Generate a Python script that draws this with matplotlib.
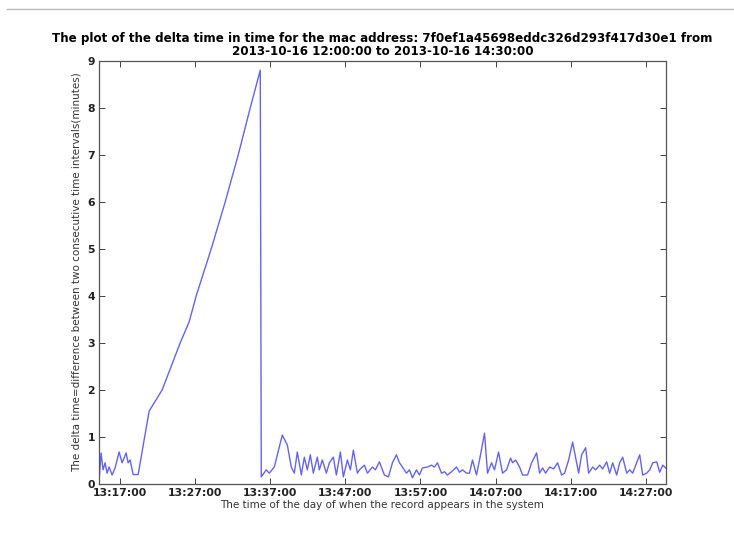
import matplotlib
matplotlib.use("Agg")
import matplotlib.pyplot as plt
import matplotlib.dates as mdates
import pandas as pd
from matplotlib.lines import Line2D

# Record timestamps and the delta time (minutes) between consecutive records
times = [
    "13:14:12", "13:14:28", "13:14:44", "13:15:00", "13:15:16", "13:15:32", "13:15:56", "13:16:20",
    "13:16:52", "13:17:16", "13:17:48", "13:18:04", "13:18:20", "13:18:44", "13:19:24", "13:20:52",
    "13:22:36", "13:25:00", "13:26:12", "13:27:08", "13:29:08", "13:31:00", "13:32:44", "13:34:20",
    "13:35:40", "13:35:48", "13:36:28", "13:36:52", "13:37:32", "13:38:36", "13:39:16", "13:39:48",
    "13:40:12", "13:40:36", "13:41:08", "13:41:32", "13:41:56", "13:42:20", "13:42:44", "13:43:16",
    "13:43:32", "13:43:56", "13:44:28", "13:44:52", "13:45:24", "13:45:48", "13:46:20", "13:46:44",
    "13:47:16", "13:47:40", "13:48:04", "13:48:36", "13:48:52", "13:49:32", "13:49:56", "13:50:36",
    "13:51:00", "13:51:32", "13:52:12", "13:52:44", "13:53:16", "13:53:48", "13:54:12", "13:54:36",
    "13:55:08", "13:55:32", "13:55:56", "13:56:28", "13:56:52", "13:57:16", "13:57:56", "13:58:28",
    "13:58:52", "13:59:16", "13:59:48", "14:00:12", "14:00:36", "14:01:08", "14:01:48", "14:02:12",
    "14:02:36", "14:03:08", "14:03:32", "14:03:56", "14:04:28", "14:04:52", "14:05:32", "14:05:56",
    "14:06:28", "14:06:52", "14:07:24", "14:07:56", "14:08:28", "14:09:00", "14:09:16", "14:09:40",
    "14:10:12", "14:10:36", "14:11:16", "14:11:48", "14:12:28", "14:12:52", "14:13:16", "14:13:40",
    "14:14:12", "14:14:44", "14:15:16", "14:15:48", "14:16:12", "14:16:44", "14:17:16", "14:17:48",
    "14:18:04", "14:18:28", "14:19:00", "14:19:24", "14:19:56", "14:20:20", "14:20:52", "14:21:16",
    "14:21:48", "14:22:12", "14:22:36", "14:23:08", "14:23:32", "14:23:56", "14:24:28", "14:24:52",
    "14:25:16", "14:25:48", "14:26:12", "14:26:36", "14:27:08", "14:27:32", "14:27:56", "14:28:28",
    "14:28:52", "14:29:16", "14:29:40",
]
delta_minutes = [
    0.08, 0.66, 0.30, 0.45, 0.23, 0.36, 0.19, 0.34,
    0.68, 0.45, 0.66, 0.45, 0.51, 0.20, 0.20, 1.55,
    2.00, 3.00, 3.45, 4.00, 5.00, 6.00, 7.00, 8.00,
    8.80, 0.15, 0.30, 0.23, 0.36, 1.04, 0.83, 0.36,
    0.23, 0.68, 0.19, 0.57, 0.30, 0.62, 0.23, 0.57,
    0.30, 0.51, 0.23, 0.45, 0.57, 0.19, 0.68, 0.15,
    0.51, 0.30, 0.72, 0.23, 0.30, 0.40, 0.23, 0.36,
    0.30, 0.47, 0.19, 0.15, 0.45, 0.62, 0.45, 0.36,
    0.23, 0.30, 0.13, 0.30, 0.19, 0.34, 0.36, 0.40,
    0.36, 0.45, 0.23, 0.26, 0.19, 0.26, 0.36, 0.25,
    0.30, 0.23, 0.23, 0.51, 0.19, 0.51, 1.08, 0.23,
    0.45, 0.30, 0.68, 0.23, 0.30, 0.55, 0.45, 0.51,
    0.36, 0.19, 0.19, 0.45, 0.66, 0.23, 0.34, 0.23,
    0.36, 0.32, 0.45, 0.19, 0.23, 0.51, 0.89, 0.45,
    0.23, 0.62, 0.77, 0.23, 0.36, 0.30, 0.40, 0.32,
    0.47, 0.23, 0.45, 0.19, 0.45, 0.57, 0.23, 0.30,
    0.23, 0.45, 0.62, 0.19, 0.23, 0.30, 0.45, 0.47,
    0.25, 0.40, 0.34,
]
x_tick_labels = ["13:17:00", "13:27:00", "13:37:00", "13:47:00",
                 "13:57:00", "14:07:00", "14:17:00", "14:27:00"]
y_ticks = [0, 1, 2, 3, 4, 5, 6, 7, 8, 9]

day = "2013-10-16 "
t = pd.to_datetime([day + s for s in times])
xt = pd.to_datetime([day + s for s in x_tick_labels])

fig = plt.figure(figsize=(7.34, 5.33), dpi=100)
ax = fig.add_axes([0.135, 0.092, 0.772, 0.794])

ax.plot(t, delta_minutes, color="#6464f0", lw=1.0)

ax.set_xlim(t[0], t[-1])
ax.set_ylim(0, 9)
ax.set_yticks(y_ticks)
ax.set_xticks(xt)
ax.xaxis.set_major_formatter(mdates.DateFormatter("%H:%M:%S"))

for lbl in ax.get_xticklabels() + ax.get_yticklabels():
    lbl.set_fontweight("bold")
    lbl.set_fontsize(7.8)
ax.tick_params(direction="in", top=True, right=True, length=4, width=0.6,
               pad=3, colors="#222222")
for sp in ax.spines.values():
    sp.set_color("#555555")
    sp.set_linewidth(0.9)

ax.set_title("The plot of the delta time in time for the mac address: "
             "7f0ef1a45698eddc326d293f417d30e1 from\n"
             "2013-10-16 12:00:00 to 2013-10-16 14:30:00",
             fontsize=8.6, fontweight="bold", pad=4, linespacing=1.05)
ax.set_xlabel("The time of the day of when the record appears in the system",
              fontsize=7.5, color="#333333", labelpad=1)
ax.set_ylabel("The delta time=difference between two consecutive time intervals(minutes)",
              fontsize=7.5, color="#333333", labelpad=4)

# thin page rule along the top
fig.add_artist(Line2D([0.01, 1.0], [0.983, 0.983], transform=fig.transFigure,
                      color="#bbbbbb", lw=1.0))

fig.savefig("out.png", dpi=100, facecolor="white")
